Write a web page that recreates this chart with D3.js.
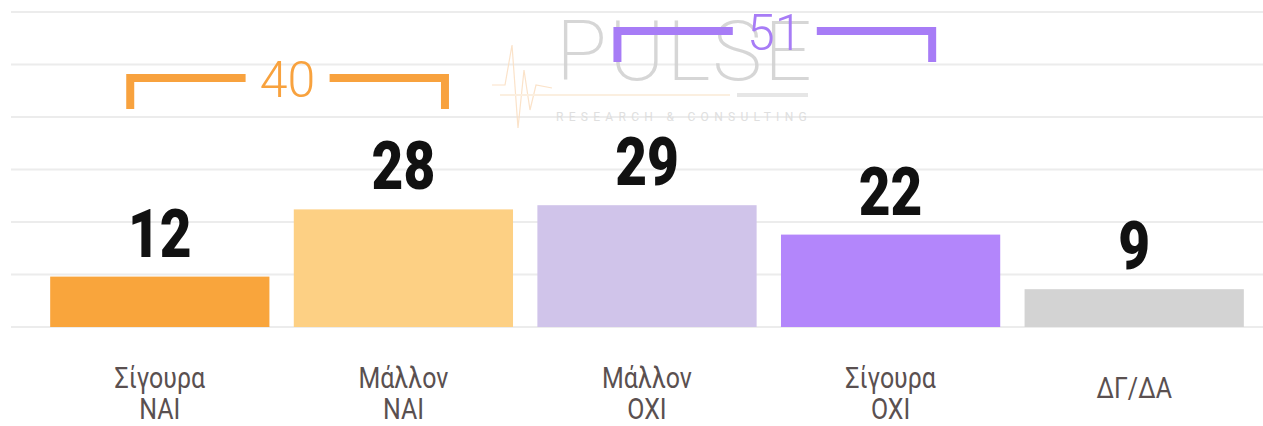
<!DOCTYPE html>
<html>
<head>
<meta charset="utf-8">
<script src="https://cdn.jsdelivr.net/npm/d3@7"></script>
<style>
  body { margin: 0; background: #fff; }
  svg { display: block; }
</style>
</head>
<body>
<svg id="chart" width="1263" height="426"></svg>
<script>
// chart data
const categories = [['Σίγουρα', 'ΝΑΙ'], ['Μάλλον', 'ΝΑΙ'], ['Μάλλον', 'ΟΧΙ'], ['Σίγουρα', 'ΟΧΙ'], ['ΔΓ/ΔΑ']];
const values = [12, 28, 29, 22, 9];
const barColors = ['#f9a53c', '#fdd084', '#d0c4ea', '#b386fb', '#d3d3d3'];
const groups = [
    {from: 0, to: 1, total: 40, color: '#f8a23e'},
    {from: 2, to: 3, total: 51, color: '#a77cf6'}
];
const gridTicks = [0, 12.5, 25, 37.5, 50, 62.5, 75];

let svg = d3.select('#chart');
let W = +svg.attr('width');

// scales
let x = d3.scaleBand().domain(d3.range(values.length))
    .range([38, 1256]).paddingInner(0.1).paddingOuter(0.05);
let y = d3.scaleLinear().domain([0, 75]).range([327, 12]);

// gridlines
svg.append('g').selectAll('line')
    .data(gridTicks).enter().append('line')
    .attr('x1', 11).attr('x2', W)
    .attr('y1', d => y(d)).attr('y2', d => y(d))
    .attr('stroke', '#ececec').attr('stroke-width', 2);

// watermark logo (decoration)
let logo = svg.append('g').attr('opacity', 0.9);
logo.append('path')
    .attr('d', 'M492,85 L505,85 L512,45 L518,128 L524,70 L530,110 L536,85 L552,88')
    .attr('fill', 'none').attr('stroke', '#fbe0c4').attr('stroke-width', 1.2);
logo.append('line').attr('x1', 500).attr('x2', 730).attr('y1', 95).attr('y2', 95)
    .attr('stroke', '#fbeedd').attr('stroke-width', 2);
logo.append('line').attr('x1', 737).attr('x2', 808).attr('y1', 95).attr('y2', 95)
    .attr('stroke', '#e4e4e4').attr('stroke-width', 4);
logo.append('text').attr('x', 556).attr('y', 80)
    .attr('font-family', 'Roboto').attr('font-weight', 200)
    .attr('font-size', 84).attr('letter-spacing', 2)
    .attr('fill', '#d2d2d2').text('PULSE');
logo.append('text').attr('x', 556).attr('y', 121)
    .attr('font-family', 'Roboto').attr('font-size', 12)
    .attr('letter-spacing', 5.3).attr('fill', '#dcdcdc')
    .text('RESEARCH & CONSULTING');

// bars
svg.append('g').selectAll('rect')
    .data(values).enter().append('rect')
    .attr('x', (d, i) => x(i))
    .attr('y', d => y(d))
    .attr('width', x.bandwidth())
    .attr('height', d => y(0) - y(d))
    .attr('fill', (d, i) => barColors[i]);

// value labels
svg.append('g').selectAll('text')
    .data(values).enter().append('text')
    .attr('transform', (d, i) => `translate(${x(i) + x.bandwidth() / 2}, ${y(d) - 20}) scale(0.82,1)`)
    .attr('text-anchor', 'middle')
    .attr('font-family', 'Roboto').attr('font-weight', 900)
    .attr('font-size', 67).attr('fill', '#111')
    .text(d => d);

// category labels
let cat = svg.append('g').selectAll('g')
    .data(categories).enter().append('g')
    .attr('transform', (d, i) => `translate(${x(i) + x.bandwidth() / 2}, 0) scale(0.86,1)`);
cat.each(function(d) {
    let g = d3.select(this);
    let y0 = d.length > 1 ? 388 : 398;
    d.forEach((line, k) => {
        g.append('text')
            .attr('y', y0 + k * 31)
            .attr('text-anchor', 'middle')
            .attr('font-family', 'Roboto').attr('font-size', 29)
            .attr('fill', '#5a5050')
            .text(line);
    });
});

// group brackets
let brackets = svg.append('g').selectAll('g')
    .data(groups).enter().append('g');
brackets.each(function(d, i) {
    let g = d3.select(this);
    let cx = (x(d.from) + x(d.to) + x.bandwidth()) / 2 + 6;
    let half = x.step() * 0.646;
    let top = i == 0 ? 78 : 31;
    let legs = 31, gap = 42;
    g.append('path')
        .attr('d', `M${cx - half},${top + legs} V${top} H${cx - gap}`)
        .attr('fill', 'none').attr('stroke', d.color).attr('stroke-width', 8);
    g.append('path')
        .attr('d', `M${cx + gap},${top} H${cx + half} V${top + legs}`)
        .attr('fill', 'none').attr('stroke', d.color).attr('stroke-width', 8);
    g.append('text')
        .attr('x', cx).attr('y', top + 19)
        .attr('text-anchor', 'middle')
        .attr('font-family', 'Roboto').attr('font-weight', 300)
        .attr('font-size', 50).attr('fill', d.color)
        .text(d.total);
});
</script>
</body>
</html>
